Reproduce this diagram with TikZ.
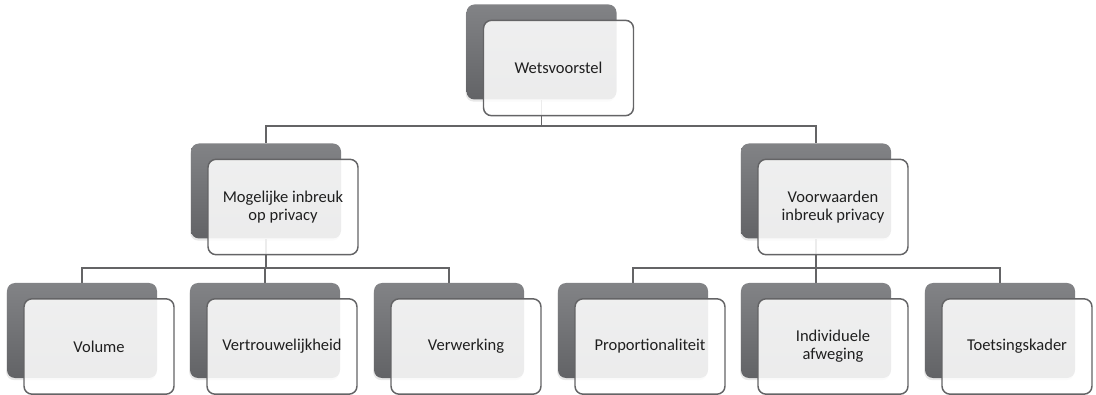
\documentclass[tikz,border=0pt]{standalone}
\usepackage{fontspec}
\setmainfont{Carlito}
\usetikzlibrary{backgrounds,shadows}

\definecolor{backtop}{RGB}{130,131,134}
\definecolor{backbot}{RGB}{98,99,102}
\definecolor{edgegray}{RGB}{100,100,102}

\tikzset{
	card back/.style = {rectangle, rounded corners = 6pt, inner sep = 0pt,
		minimum width = 112.5pt, minimum height = 71.25pt,
		top color = backtop, bottom color = backbot,
		drop shadow = {shadow xshift = -0.6pt, shadow yshift = -1.6pt, opacity = 0.18}},
	card front/.style = {rectangle, rounded corners = 6pt, inner sep = 2pt,
		minimum width = 112.5pt, minimum height = 71.5pt,
		draw = edgegray, line width = 1.1pt, fill = white, fill opacity = 0.88,
		text opacity = 1, text = black!88, align = center,
		font = \fontsize{12.4}{13.6}\selectfont},
	link/.style = {draw = edgegray, line width = 1.2pt}
}

\begin{document}
\begin{tikzpicture}[x = 0.75pt, y = -0.75pt]
	\useasboundingbox (0,0) rectangle (1096,395);

	% cards: name / x / y / text
	\foreach \nm/\px/\py/\txt in {
		wet/541.5/52/Wetsvoorstel,
		inbreuk/266/191/{Mogelijke inbreuk\\op privacy},
		voorw/816/191/{Voorwaarden\\inbreuk privacy},
		vol/82/330.5/Volume,
		vertr/265/330.5/Vertrouwelijkheid,
		verw/449/330.5/Verwerking,
		prop/633/330.5/Proportionaliteit,
		indiv/816/330.5/{Individuele\\afweging},
		toets/1000/330.5/Toetsingskader}
	{
		\node [card back] (\nm) at (\px,\py) {};
		\node [card front] (\nm-f) at ([shift = {(17,16)}]\nm) {\txt};
	}

	% tree lines
	\begin{scope}[on background layer]
		\foreach \ch in {inbreuk, voorw}
		\draw [link] (\ch.north) -- ++(0,-17) -| (wet.south);
		\foreach \ch in {vol, vertr, verw}
		\draw [link] (\ch.north) -- ++(0,-15) -| (inbreuk.south);
		\foreach \ch in {prop, indiv, toets}
		\draw [link] (\ch.north) -- ++(0,-15) -| (voorw.south);
	\end{scope}
\end{tikzpicture}
\end{document}
